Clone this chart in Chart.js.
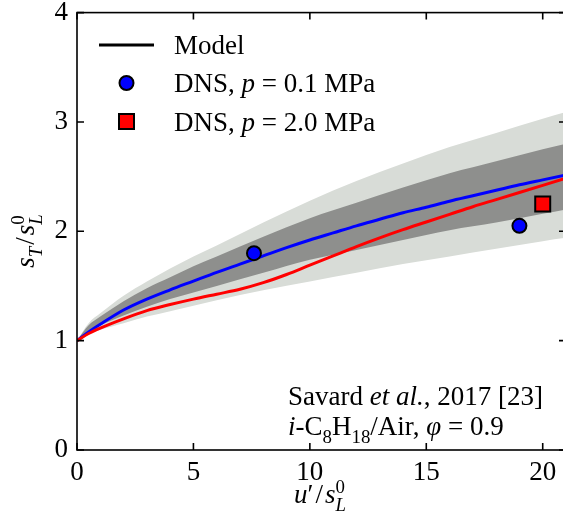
<!DOCTYPE html>
<html>
<head>
<meta charset="utf-8">
<script src="https://cdn.jsdelivr.net/npm/chart.js@4/dist/chart.umd.min.js"></script>
<style>
  html, body { margin: 0; padding: 0; overflow: hidden; background: #fff; }
  #wrap { width: 563px; height: 519px; overflow: hidden; }
</style>
</head>
<body>
<div id="wrap"><canvas id="c" width="580" height="519"></canvas></div>
<script>
// band grid (u'/s_L^0)
var bandU      = [0, 0.5, 1, 2, 3, 4, 5, 6, 8, 10, 12, 14, 16, 18, 20, 21];
var lightUpper = [1.00, 1.16, 1.25, 1.41, 1.54, 1.66, 1.77, 1.87, 2.08, 2.28, 2.46, 2.62, 2.77, 2.90, 3.03, 3.09];
var lightLower = [1.00, 1.06, 1.10, 1.16, 1.22, 1.27, 1.32, 1.37, 1.46, 1.54, 1.62, 1.70, 1.77, 1.84, 1.91, 1.94];
var darkUpper  = [1.00, 1.14, 1.22, 1.36, 1.48, 1.58, 1.68, 1.77, 1.95, 2.12, 2.26, 2.40, 2.53, 2.64, 2.75, 2.80];
var darkLower  = [1.00, 1.09, 1.14, 1.23, 1.31, 1.38, 1.44, 1.50, 1.62, 1.74, 1.83, 1.92, 2.01, 2.08, 2.16, 2.20];

// model curves
var lineU      = [0, 0.5, 1, 2, 3, 4, 5, 6, 7, 8, 9, 10, 11, 12, 13, 14, 15, 16, 17, 18, 19, 20, 21];
var modelLowP  = [1.00, 1.08, 1.15, 1.28, 1.38, 1.465, 1.545, 1.625, 1.70, 1.775, 1.85, 1.92, 1.985, 2.05, 2.11, 2.17, 2.22, 2.275, 2.325, 2.375, 2.425, 2.47, 2.515];
var modelHighP = [1.00, 1.065, 1.115, 1.20, 1.275, 1.33, 1.38, 1.425, 1.47, 1.53, 1.605, 1.69, 1.775, 1.86, 1.94, 2.015, 2.085, 2.155, 2.225, 2.29, 2.355, 2.42, 2.485];

// DNS points
var dnsLowU  = [7.6, 19.0];
var dnsLowS  = [1.80, 2.05];
var dnsHighU = [20.0];
var dnsHighS = [2.25];

var xTicks = [0, 5, 10, 15, 20];
var yTicks = [0, 1, 2, 3, 4];

var FONT = "'Liberation Serif', 'DejaVu Serif', serif";
var FS = 27;

function pts(xs, ys){
  var out = [];
  for(var i=0;i<xs.length;i++) out.push({x: xs[i], y: ys[i]});
  return out;
}

// runs: {t, i: italic, s: 'sub'|'sup', keep: stack with next run}
function richWidth(ctx, runs, size){
  var w = 0, kept = 0;
  for(var i=0;i<runs.length;i++){
    var r = runs[i];
    var fs = r.s ? size*0.7 : size;
    ctx.font = (r.i ? 'italic ' : '') + fs + 'px ' + FONT;
    var rw = ctx.measureText(r.t).width;
    if(r.keep){ kept = rw; continue; }
    w += Math.max(rw, kept) + (r.gap || 0); kept = 0;
  }
  return w;
}
function drawRich(ctx, runs, x, y, size, align){
  var w = richWidth(ctx, runs, size);
  if(align === 'center') x -= w/2;
  else if(align === 'right') x -= w;
  var kept = 0;
  ctx.textBaseline = 'alphabetic';
  ctx.textAlign = 'left';
  ctx.fillStyle = '#000';
  for(var i=0;i<runs.length;i++){
    var r = runs[i];
    var fs = r.s ? size*0.7 : size;
    ctx.font = (r.i ? 'italic ' : '') + fs + 'px ' + FONT;
    var dy = r.s === 'sub' ? size*0.28 : (r.s === 'sup' ? -size*0.38 : 0);
    ctx.fillText(r.t, x, y + dy);
    var rw = ctx.measureText(r.t).width;
    if(r.keep){ kept = rw; continue; }
    x += Math.max(rw, kept) + (r.gap || 0); kept = 0;
  }
}

var decor = {
  id: 'decor',
  afterDraw: function(chart){
    var ctx = chart.ctx, a = chart.chartArea;
    var xs = chart.scales.x, ys = chart.scales.y;
    ctx.save();
    ctx.strokeStyle = '#000';
    ctx.lineWidth = 1.6;
    ctx.strokeRect(a.left, a.top, a.right - a.left, a.bottom - a.top);
    var tl = 7;
    ctx.beginPath();
    xTicks.forEach(function(v){
      var px = xs.getPixelForValue(v);
      ctx.moveTo(px, a.bottom); ctx.lineTo(px, a.bottom - tl);
      ctx.moveTo(px, a.top); ctx.lineTo(px, a.top + tl);
    });
    yTicks.forEach(function(v){
      var py = ys.getPixelForValue(v);
      ctx.moveTo(a.left, py); ctx.lineTo(a.left + tl, py);
      ctx.moveTo(a.right, py); ctx.lineTo(a.right - tl, py);
    });
    ctx.stroke();

    // legend
    var lx = a.left + 22, tx = a.left + 97;
    ctx.lineWidth = 3;
    ctx.beginPath(); ctx.moveTo(lx, 45); ctx.lineTo(lx + 55, 45); ctx.stroke();
    ctx.lineWidth = 2;
    ctx.beginPath(); ctx.arc(lx + 27.5, 83, 7, 0, Math.PI*2);
    ctx.fillStyle = '#0000ff'; ctx.fill(); ctx.stroke();
    ctx.fillStyle = '#ff0000';
    ctx.fillRect(lx + 20, 114, 15, 15); ctx.strokeRect(lx + 20, 114, 15, 15);
    drawRich(ctx, [{t:'Model'}], tx, 54, FS);
    drawRich(ctx, [{t:'DNS, '}, {t:'p', i:true}, {t:' = 0.1 MPa'}], tx, 92, FS);
    drawRich(ctx, [{t:'DNS, '}, {t:'p', i:true}, {t:' = 2.0 MPa'}], tx, 131, FS);

    // annotation
    drawRich(ctx, [{t:'Savard '}, {t:'et al.', i:true}, {t:', 2017 [23]'}], 288, 405, FS);
    drawRich(ctx, [{t:'i', i:true}, {t:'-C'}, {t:'8', s:'sub'}, {t:'H'}, {t:'18', s:'sub'},
                   {t:'/Air, '}, {t:'\u03c6', i:true}, {t:' = 0.9'}], 288, 435, FS);

    // axis titles
    drawRich(ctx, [{t:'u', i:true}, {t:'\u2032', gap:2}, {t:'/', gap:2}, {t:'s', i:true}, {t:'L', i:true, s:'sub', keep:true}, {t:'0', s:'sup'}],
             294, 503, FS);
    ctx.translate(34, 241);
    ctx.rotate(-Math.PI/2);
    drawRich(ctx, [{t:'s', i:true}, {t:'T', i:true, s:'sub', gap:2}, {t:'/', gap:2}, {t:'s', i:true}, {t:'L', i:true, s:'sub', keep:true}, {t:'0', s:'sup'}],
             0, 0, FS, 'center');
    ctx.restore();
  }
};

var ctx = document.getElementById('c').getContext('2d');
var myChart = new Chart(ctx, {
  type: 'scatter',
  data: {
    datasets: [
      { label: 'DNS, p = 2.0 MPa', data: pts(dnsHighU, dnsHighS), pointStyle: 'rect', pointRadius: 10.6,
        backgroundColor: '#ff0000', borderColor: '#000', borderWidth: 2, showLine: false },
      { label: 'DNS, p = 0.1 MPa', data: pts(dnsLowU, dnsLowS), pointStyle: 'circle', pointRadius: 7,
        backgroundColor: '#0000ff', borderColor: '#000', borderWidth: 2, showLine: false },
      { label: 'Model 2.0 MPa', data: pts(lineU, modelHighP), showLine: true, borderColor: '#ff0000',
        borderWidth: 3, pointRadius: 0, cubicInterpolationMode: 'monotone', fill: false },
      { label: 'Model 0.1 MPa', data: pts(lineU, modelLowP), showLine: true, borderColor: '#0000ff',
        borderWidth: 3, pointRadius: 0, cubicInterpolationMode: 'monotone', fill: false },
      { label: 'dark upper', data: pts(bandU, darkUpper), showLine: true, borderWidth: 0, borderColor: 'rgba(0,0,0,0)',
        pointRadius: 0, cubicInterpolationMode: 'monotone', fill: '+1', backgroundColor: '#8e8f8d' },
      { label: 'dark lower', data: pts(bandU, darkLower), showLine: true, borderWidth: 0, borderColor: 'rgba(0,0,0,0)',
        pointRadius: 0, cubicInterpolationMode: 'monotone', fill: false },
      { label: 'light upper', data: pts(bandU, lightUpper), showLine: true, borderWidth: 0, borderColor: 'rgba(0,0,0,0)',
        pointRadius: 0, cubicInterpolationMode: 'monotone', fill: '+1', backgroundColor: '#d8dcd7' },
      { label: 'light lower', data: pts(bandU, lightLower), showLine: true, borderWidth: 0, borderColor: 'rgba(0,0,0,0)',
        pointRadius: 0, cubicInterpolationMode: 'monotone', fill: false }
    ]
  },
  options: {
    responsive: false,
    animation: false,
    layout: { padding: { left: 0, top: 10, right: 14, bottom: 0 } },
    plugins: { legend: { display: false }, tooltip: { enabled: false } },
    scales: {
      x: {
        type: 'linear', min: 0, max: 21,
        grid: { display: false, drawTicks: false },
        border: { display: false },
        afterFit: function(s){ s.height = 69; s.paddingLeft = 0; s.paddingRight = 0; },
        afterBuildTicks: function(s){ s.ticks = xTicks.map(function(v){ return {value: v}; }); },
        ticks: { padding: 7, color: '#000', font: { family: FONT, size: FS }, maxRotation: 0 }
      },
      y: {
        type: 'linear', min: 0, max: 4,
        grid: { display: false, drawTicks: false },
        border: { display: false },
        afterFit: function(s){ s.width = 77; s.paddingTop = 0; s.paddingBottom = 0; },
        afterBuildTicks: function(s){ s.ticks = yTicks.map(function(v){ return {value: v}; }); },
        ticks: { padding: 9, color: '#000', font: { family: FONT, size: FS } }
      }
    }
  },
  plugins: [decor]
});
</script>
</body>
</html>
